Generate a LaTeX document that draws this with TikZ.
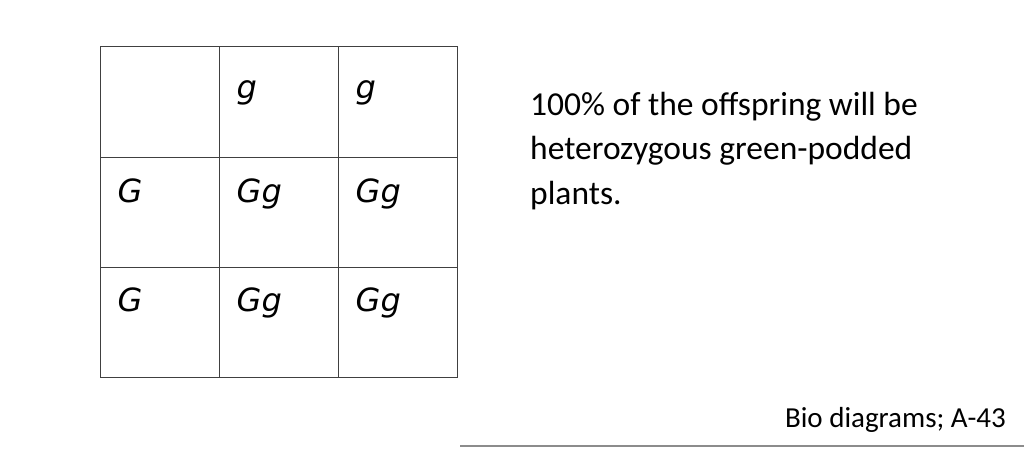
\documentclass[tikz,border=0pt]{standalone}
\usepackage{fontspec}
\setmainfont{Carlito}
\newfontfamily\allelefont{DejaVu Sans}
\usetikzlibrary{positioning}

\begin{document}
\begin{tikzpicture}[
  x=1pt, y=-1pt,
  cell/.style={draw=black!75, line width=1pt, rectangle, minimum width=119pt, minimum height=110.3pt, inner sep=0pt},
  allele/.style={anchor=base west, inner sep=0pt, font=\allelefont\itshape\fontsize{32}{32}\selectfont},
  note/.style={anchor=base west, inner sep=0pt, font=\fontsize{33.5}{44.5}\selectfont, align=left}
]
  \useasboundingbox (0,0) rectangle (1024,448);

  % Punnett square
  \node[cell] (c11) at (159.5,102) {};
  \node[cell] (c12) at (278.5,102) {};
  \node[cell] (c13) at (397.5,102) {};
  \node[cell] (c21) at (159.5,212.3) {};
  \node[cell] (c22) at (278.5,212.3) {};
  \node[cell] (c23) at (397.5,212.3) {};
  \node[cell] (c31) at (159.5,322.6) {};
  \node[cell] (c32) at (278.5,322.6) {};
  \node[cell] (c33) at (397.5,322.6) {};

  % Gametes and offspring
  \node[allele] (g12) at ([xshift=18pt, yshift=-52pt]c12.north west) {g};
  \node[allele] (g13) at ([xshift=18pt, yshift=-52pt]c13.north west) {g};
  \node[allele] (g21) at ([xshift=18pt, yshift=-46pt]c21.north west) {G};
  \node[allele] (g22) at ([xshift=18pt, yshift=-46pt]c22.north west) {Gg};
  \node[allele] (g23) at ([xshift=18pt, yshift=-46pt]c23.north west) {Gg};
  \node[allele] (g31) at ([xshift=18pt, yshift=-45pt]c31.north west) {G};
  \node[allele] (g32) at ([xshift=18pt, yshift=-45pt]c32.north west) {Gg};
  \node[allele] (g33) at ([xshift=18pt, yshift=-45pt]c33.north west) {Gg};

  % Result
  \node[note] (result) at (530,204) {100\% of the offspring will be\\heterozygous green-podded\\plants.};

  % Footer
  \node[anchor=base east, inner sep=0pt, font=\fontsize{29}{29}\selectfont] (source) at (1006,427) {Bio diagrams; A-43};
  \draw[black!45, line width=1.5pt] (460,446) -- (1024,446);

\end{tikzpicture}
\end{document}
